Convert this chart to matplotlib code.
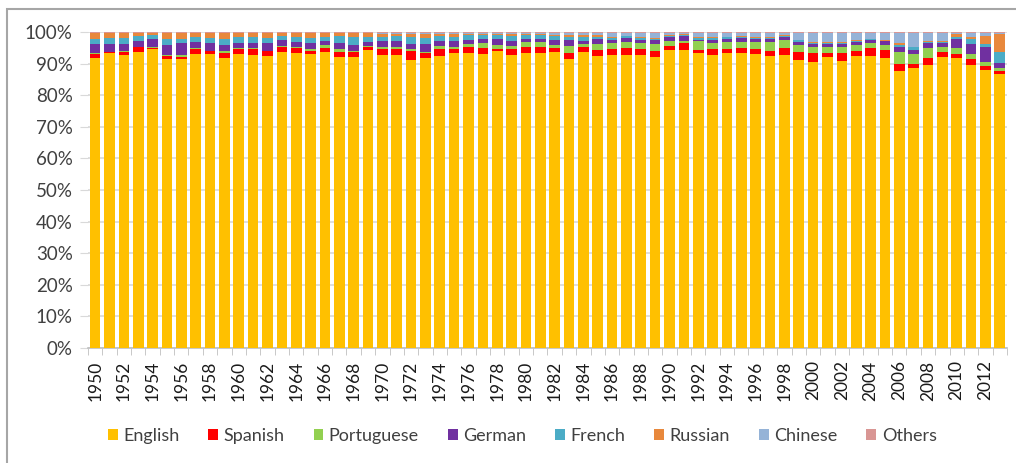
import numpy as np
import pandas as pd
import matplotlib
matplotlib.use('Agg')
import matplotlib.pyplot as plt
from matplotlib.patches import Rectangle
from matplotlib.ticker import PercentFormatter

years = list(range(1950, 2014))

english = [91.8, 93.2, 92.7, 93.6, 94.6, 91.0, 91.0, 93.0, 92.7, 91.4,
           93.0, 92.5, 92.2, 93.5, 93.5, 93.3, 93.5, 91.9, 92.5, 93.4,
           92.4, 92.6, 91.0, 91.9, 92.4, 93.3, 93.5, 93.3, 93.8, 92.5,
           93.4, 93.5, 94.0, 91.4, 94.3, 92.4, 93.0, 93.5, 93.0, 92.4,
           94.6, 94.6, 93.5, 93.0, 93.5, 93.3, 93.3, 92.8, 93.3, 91.4,
           90.9, 92.2, 90.9, 92.5, 92.6, 92.0, 87.8, 88.5, 89.6, 92.0,
           92.0, 89.6, 88.2, 86.8]
spanish = [1.3, 0.4, 1.0, 1.5, 0.3, 1.1, 0.6, 1.6, 1.1, 1.6,
           1.6, 2.0, 1.6, 1.8, 1.6, 1.1, 1.0, 1.6, 1.5, 0.8,
           2.1, 1.9, 2.7, 1.6, 2.1, 1.3, 2.1, 1.8, 0.7, 1.7,
           2.1, 2.1, 1.3, 2.1, 1.7, 1.8, 1.9, 2.1, 1.9, 1.8,
           1.4, 2.1, 1.0, 1.9, 1.4, 1.8, 1.4, 1.5, 2.2, 2.7,
           2.7, 1.4, 2.7, 1.8, 2.4, 2.4, 2.2, 1.5, 2.4, 1.6,
           1.3, 1.8, 1.1, 0.9]
portuguese = [0.2, 0.1, 0.1, 0.2, 0.3, 0.1, 0.7, 0.1, 0.1, 0.5,
              0.1, 0.1, 0.1, 0.1, 0.4, 0.5, 1.0, 0.7, 0.3, 0.3,
              0.7, 0.7, 0.7, 0.2, 1.0, 0.7, 0.7, 1.6, 1.4, 1.0,
              1.4, 1.4, 1.0, 2.1, 1.0, 1.9, 1.8, 2.1, 1.8, 2.4,
              1.5, 0.7, 2.8, 1.8, 2.1, 1.9, 2.2, 2.8, 2.5, 2.0,
              1.8, 1.8, 1.8, 1.7, 1.8, 1.7, 3.6, 3.0, 3.0, 1.8,
              2.0, 1.6, 1.4, 1.1]
german = [3.0, 2.4, 2.3, 1.9, 2.6, 3.2, 3.5, 2.1, 2.5, 2.0,
          1.8, 1.8, 2.3, 2.1, 1.5, 1.9, 1.4, 2.1, 2.1, 1.4,
          1.7, 2.1, 1.4, 2.4, 1.8, 1.7, 1.4, 1.4, 1.8, 1.7,
          1.1, 1.1, 1.7, 1.8, 0.8, 1.6, 1.1, 1.1, 1.1, 1.1,
          1.1, 1.4, 0.4, 1.1, 1.1, 1.1, 1.1, 1.0, 1.1, 1.1,
          1.1, 1.0, 1.1, 1.1, 0.8, 1.1, 1.6, 1.3, 1.8, 1.1,
          2.7, 3.3, 4.6, 1.6]
french = [1.5, 1.8, 1.8, 1.6, 1.4, 1.9, 1.5, 1.4, 1.4, 1.8,
          1.7, 1.7, 1.6, 1.1, 1.5, 1.6, 1.3, 2.1, 2.4, 1.6,
          1.3, 1.4, 2.3, 2.1, 1.4, 1.3, 1.4, 1.1, 1.1, 1.5,
          1.1, 1.1, 1.0, 1.0, 1.3, 0.8, 0.5, 0.6, 0.5, 0.5,
          0.4, 0.5, 0.6, 0.5, 0.5, 0.5, 0.4, 0.4, 0.4, 0.4,
          0.3, 0.3, 0.3, 0.3, 0.3, 0.3, 0.8, 0.8, 0.3, 0.4,
          0.8, 1.6, 1.1, 3.3]
russian = [1.8, 1.6, 1.6, 0.8, 0.5, 1.9, 1.7, 1.3, 1.6, 1.9,
           1.3, 1.3, 1.6, 0.9, 1.2, 1.5, 1.1, 0.9, 1.2, 1.1,
           1.1, 0.8, 1.1, 1.3, 0.8, 1.1, 0.6, 0.5, 0.6, 0.8,
           0.4, 0.4, 0.5, 0.6, 0.5, 0.4, 0.3, 0.2, 0.3, 0.3,
           0.2, 0.2, 0.2, 0.2, 0.2, 0.2, 0.2, 0.2, 0.2, 0.2,
           0.2, 0.2, 0.2, 0.2, 0.2, 0.2, 0.4, 0.3, 0.2, 0.4,
           0.8, 0.5, 2.4, 5.8]
chinese = [0.1, 0.1, 0.1, 0.1, 0.1, 0.1, 0.1, 0.1, 0.1, 0.1,
           0.1, 0.1, 0.1, 0.1, 0.1, 0.1, 0.1, 0.1, 0.1, 0.1,
           0.2, 0.2, 0.2, 0.2, 0.2, 0.2, 0.2, 0.2, 0.2, 0.2,
           0.4, 0.4, 0.6, 0.7, 0.8, 0.8, 1.3, 0.9, 1.3, 1.5,
           0.8, 0.4, 1.4, 1.4, 1.2, 1.0, 1.3, 1.3, 0.7, 2.2,
           3.0, 3.0, 2.9, 2.3, 1.8, 2.2, 3.3, 4.3, 2.6, 2.4,
           0.4, 1.3, 1.0, 0.3]
others = [0.3] * 64

languages = ['English', 'Spanish', 'Portuguese', 'German', 'French',
             'Russian', 'Chinese', 'Others']
colors = ['#FFC000', '#FF0000', '#92D050', '#7030A0', '#4BACC6',
          '#E8883C', '#95B3D7', '#D99694']

df = pd.DataFrame(dict(zip(languages, [english, spanish, portuguese, german,
                                       french, russian, chinese, others])),
                  index=years)
# 100% stacked: each year scaled to its total
df = df.div(df.sum(axis=1), axis=0)

plt.rcParams['font.family'] = ['Lato', 'DejaVu Sans']

fig = plt.figure(figsize=(10.16, 4.63), dpi=100)
ax = fig.add_axes([0.0866, 0.2484, 0.9045, 0.6825])

x = np.arange(len(years))
bottom = np.zeros(len(years))
for lang, col in zip(languages, colors):
    ax.bar(x, df[lang].values, bottom=bottom, width=0.74, color=col,
           label=lang, zorder=3, linewidth=0)
    bottom += df[lang].values

ax.set_xlim(-0.5, len(years) - 0.5)
ax.set_ylim(0, 1)
ax.yaxis.set_major_formatter(PercentFormatter(1, decimals=0))
ax.set_yticks(np.arange(0, 1.01, 0.1))
ax.grid(axis='y', color='#D9D9D9', linewidth=1.2, zorder=0)

# label every other year at bar centre, tick marks at bar boundaries
ax.set_xticks(x[::2])
ax.set_xticklabels([str(y) for y in years[::2]], rotation=90,
                   fontsize=12.5, color='#1A1A1A')
ax.set_xticks(np.arange(-0.5, len(years), 1), minor=True)
ax.tick_params(axis='x', which='major', length=0, pad=9)
ax.tick_params(axis='x', which='minor', length=5, color='#BFBFBF')
ax.tick_params(axis='y', length=6, color='#D9D9D9', labelsize=13.5,
               labelcolor='#404040', pad=5)

for s in ['top', 'right', 'left']:
    ax.spines[s].set_visible(False)
ax.spines['bottom'].set_color('#BFBFBF')
ax.spines['bottom'].set_linewidth(1.2)

fig.legend(loc='center', bbox_to_anchor=(0.514, 0.058), ncol=8,
           frameon=False, fontsize=13, handlelength=0.55, handleheight=0.55,
           handletextpad=0.3, columnspacing=1.6, labelcolor='#404040')

# outer chart frame
fig.patches.append(Rectangle((7 / 1016, -0.1), 1.2, 0.1 + 1 - 9 / 463,
                             transform=fig.transFigure, fill=False,
                             edgecolor='#A6A6A6', linewidth=1.5))

fig.savefig('out.png', dpi=100)
